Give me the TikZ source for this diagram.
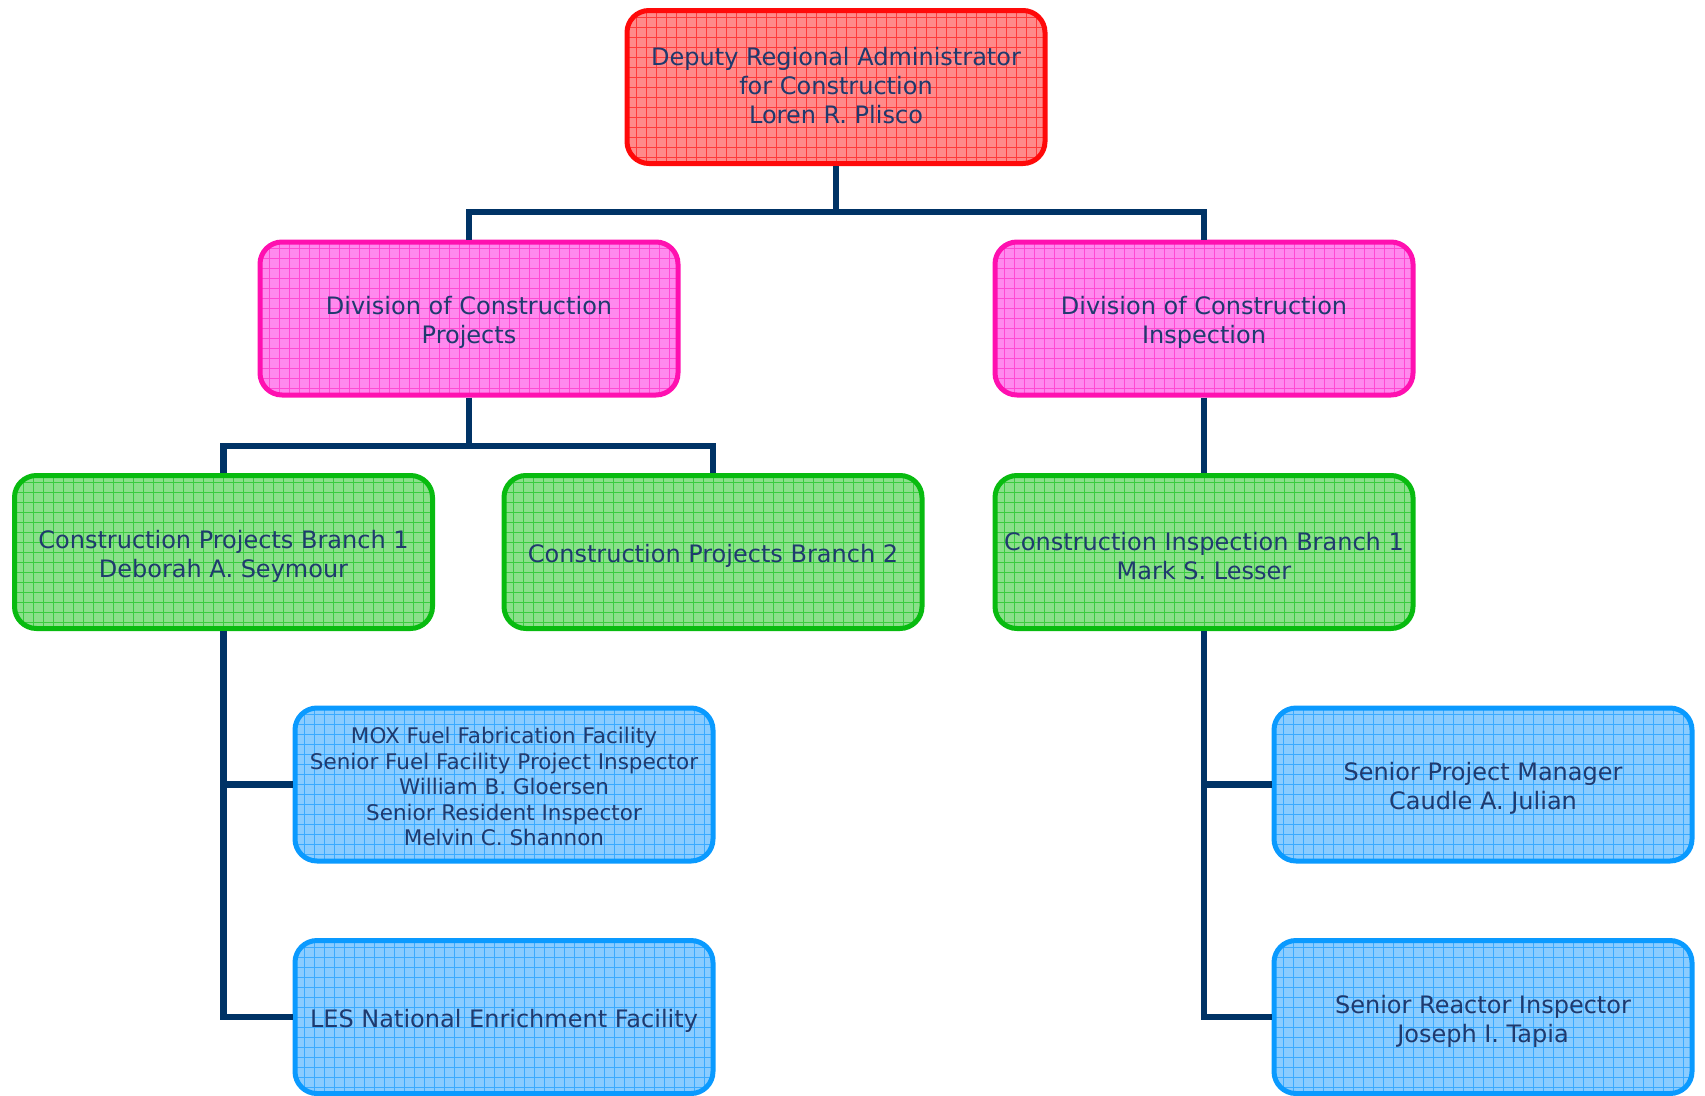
\documentclass[tikz,border=0pt]{standalone}
\usepackage{fontspec}
\setmainfont{DejaVu Sans}
\usetikzlibrary{calc}
\definecolor{txt}{HTML}{1F3A6E}
\definecolor{conn}{HTML}{003366}
\definecolor{redB}{HTML}{FF0A0A}\definecolor{redF}{HTML}{FF8A8A}\definecolor{redG}{HTML}{FF3A3A}
\definecolor{magB}{HTML}{FF10B0}\definecolor{magF}{HTML}{FF8AEE}\definecolor{magG}{HTML}{FF4AD4}
\definecolor{grnB}{HTML}{08BB10}\definecolor{grnF}{HTML}{8AE08A}\definecolor{grnG}{HTML}{3ACC40}
\definecolor{bluB}{HTML}{0A9AFF}\definecolor{bluF}{HTML}{8ACCFF}\definecolor{bluG}{HTML}{3AAAFF}
\tikzset{
  box/.style args={#1/#2/#3}{draw=#1, fill=#2, line width=5pt, rounded corners=22pt,
    minimum width=418pt, minimum height=153pt, inner sep=0pt,
    path picture={\draw[#3, line width=0.8pt, step=10pt]
      ([shift={(-5pt,-5pt)}]path picture bounding box.south west) grid ([shift={(5pt,5pt)}]path picture bounding box.north east);}},
  redbox/.style={box=redB/redF/redG},
  magbox/.style={box=magB/magF/magG},
  grnbox/.style={box=grnB/grnF/grnG},
  blubox/.style={box=bluB/bluF/bluG},
  lbl/.style={align=center, text=txt, inner sep=0pt, yshift=-4pt, font=\fontsize{24}{29}\selectfont},
  small/.style={font=\fontsize{21.5}{25.5}\selectfont},
  link/.style={draw=conn, line width=6.5pt}
}
\begin{document}
\begin{tikzpicture}[x=1pt,y=-1pt]
\useasboundingbox (0,0) rectangle (1705,1095);
\coordinate (bus1) at (836,212);
\coordinate (bus2) at (469,446);
\node[redbox] (top) at (836,87) {};
\node[magbox] (dl) at (469,318.5) {};
\node[magbox] (dr) at (1204,318.5) {};
\node[grnbox] (g1) at (223.5,552) {};
\node[grnbox] (g2) at (713,552) {};
\node[grnbox] (g3) at (1204,552) {};
\node[blubox] (b1) at (504,784.5) {};
\node[blubox] (b2) at (504,1017) {};
\node[blubox] (b3) at (1483,784.5) {};
\node[blubox] (b4) at (1483,1017) {};
\node[lbl, yshift=5pt] (topt) at (top) {Deputy Regional Administrator\\for Construction\\Loren R. Plisco};
\node[lbl] (dlt) at (dl) {Division of Construction\\Projects};
\node[lbl] (drt) at (dr) {Division of Construction\\Inspection};
\node[lbl] (g1t) at (g1) {Construction Projects Branch 1\\Deborah A. Seymour};
\node[lbl] (g2t) at (g2) {Construction Projects Branch 2};
\node[lbl] (g3t) at (g3) {Construction Inspection Branch 1\\Mark S. Lesser};
\node[lbl, small, yshift=2pt] (b1t) at (b1) {MOX Fuel Fabrication Facility\\Senior Fuel Facility Project Inspector\\William B. Gloersen\\Senior Resident Inspector\\Melvin C. Shannon};
\node[lbl] (b2t) at (b2) {LES National Enrichment Facility};
\node[lbl] (b3t) at (b3) {Senior Project Manager\\Caudle A. Julian};
\node[lbl] (b4t) at (b4) {Senior Reactor Inspector\\Joseph I. Tapia};
\draw[link] (top.south) -- (bus1);
\draw[link] (bus1) -| (dl.north);
\draw[link] (bus1) -| (dr.north);
\draw[link] (dl.south) -- (bus2);
\draw[link] (bus2) -| (g1.north);
\draw[link] (bus2) -| (g2.north);
\draw[link] (dr.south) -- (g3.north);
\draw[link] (g1.south) |- (b2.west);
\draw[link] (g1.south |- b1.west) -- (b1.west);
\draw[link] (g3.south) |- (b4.west);
\draw[link] (g3.south |- b3.west) -- (b3.west);
\end{tikzpicture}
\end{document}
